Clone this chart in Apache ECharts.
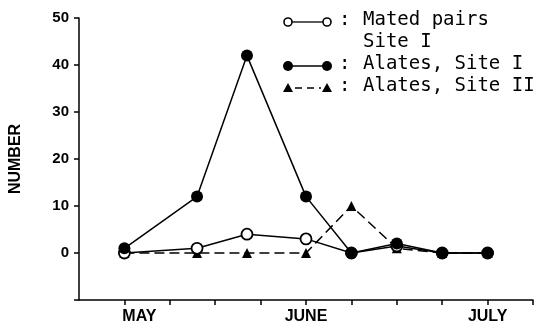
<!DOCTYPE html>
<html><head><meta charset="utf-8">
<script src="https://cdn.jsdelivr.net/npm/echarts@6/dist/echarts.min.js"></script>
<style>html,body{margin:0;padding:0;background:#fff}#c{width:544px;height:328px}</style>
</head><body><div id="c"></div>
<script>
// Data (x positions in weeks from start of May; month ticks at 0, 4, 8)
var xPositions = [0, 1.6, 2.7, 4, 5, 6, 7, 8];
var matedPairsSiteI = [0, 1, 4, 3, 0, 1.5, 0, 0];
var alatesSiteI = [1, 12, 42, 12, 0, 2, 0, 0];
var alatesSiteII = [0, 0, 0, 0, 10, 1, 0, 0];
var monthLabels = {0: 'MAY', 4: 'JUNE', 8: 'JULY'};
var yTickLabels = [0, 10, 20, 30, 40, 50];

function pairs(ys){ return xPositions.map(function(x,i){ return [x, ys[i]]; }); }

var chart = echarts.init(document.getElementById('c'), null, {renderer:'canvas'});
var axisFont = {fontFamily:'Liberation Sans', fontWeight:'bold', color:'#000'};
var legendFont = 'DejaVu Sans Mono';
var lx = 363, rows = [22, 43.5, 66, 88];
function legendText(t, y){ return {type:'text', left:lx, top:y-11, style:{text:t, font:'19px "'+legendFont+'"', fill:'#000'}}; }
function colon(y){ return {type:'text', left:339, top:y-11, style:{text:':', font:'19px "'+legendFont+'"', fill:'#000'}}; }

var option = {
  animation:false,
  backgroundColor:'#fff',
  grid:{left:76, right:11, top:18, bottom:28, containLabel:false},
  xAxis:{type:'value', min:-1, max:9, interval:1,
    axisLine:{onZero:false, lineStyle:{color:'#000', width:1.5}},
    axisTick:{show:true, inside:false, length:5, lineStyle:{color:'#000', width:1.5}},
    splitLine:{show:false},
    axisLabel:Object.assign({fontSize:16, margin:9, showMinLabel:false,
      formatter:function(v){ return monthLabels[v] ? (v===0 ? '{m|'+monthLabels[v]+'}' : monthLabels[v]) : ''; },
      rich:{m:Object.assign({fontSize:16, padding:[0,0,0,30]}, axisFont)}}, axisFont)
  },
  yAxis:{type:'value', min:-10, max:50, interval:10,
    axisLine:{show:true, onZero:false, lineStyle:{color:'#000', width:1.5}},
    axisTick:{show:true, inside:false, length:5, lineStyle:{color:'#000', width:1.5}},
    splitLine:{show:false},
    axisLabel:Object.assign({fontSize:15, margin:10,
      formatter:function(v){ return yTickLabels.indexOf(v) >= 0 ? String(v) : ''; }}, axisFont),
    name:'NUMBER', nameLocation:'middle', nameGap:55, nameRotate:90,
    nameTextStyle:{fontFamily:'Liberation Sans', fontWeight:'bold', fontSize:16, color:'#000'}
  },
  series:[
    {name:'Alates, Site II', type:'line', data:pairs(alatesSiteII), symbol:'triangle', symbolSize:10,
     lineStyle:{color:'#000', width:1.5, type:[10,5]}, itemStyle:{color:'#000'}, z:2},
    {name:'Mated pairs Site I', type:'line', data:pairs(matedPairsSiteI), symbol:'circle', symbolSize:11,
     lineStyle:{color:'#000', width:1.5}, itemStyle:{color:'#fff', borderColor:'#000', borderWidth:1.8}, z:3},
    {name:'Alates, Site I', type:'line', data:pairs(alatesSiteI), symbol:'circle', symbolSize:12,
     lineStyle:{color:'#000', width:1.5}, itemStyle:{color:'#000'}, z:4}
  ],
  graphic:[
    {type:'circle', shape:{cx:288, cy:rows[0], r:4}, style:{fill:'#fff', stroke:'#000', lineWidth:1.6}},
    {type:'line', shape:{x1:292, y1:rows[0], x2:323, y2:rows[0]}, style:{stroke:'#000', lineWidth:1.3}},
    {type:'circle', shape:{cx:327, cy:rows[0], r:4}, style:{fill:'#fff', stroke:'#000', lineWidth:1.6}},
    colon(rows[0]), legendText('Mated pairs', rows[0]), legendText('Site I', rows[1]),
    {type:'circle', shape:{cx:288, cy:rows[2], r:5}, style:{fill:'#000'}},
    {type:'line', shape:{x1:292, y1:rows[2], x2:323, y2:rows[2]}, style:{stroke:'#000', lineWidth:1.5}},
    {type:'circle', shape:{cx:327, cy:rows[2], r:5}, style:{fill:'#000'}},
    colon(rows[2]), legendText('Alates, Site I', rows[2]),
    {type:'polygon', shape:{points:[[288,rows[3]-5],[283,rows[3]+4],[293,rows[3]+4]]}, style:{fill:'#000'}},
    {type:'line', shape:{x1:295, y1:rows[3], x2:321, y2:rows[3]}, style:{stroke:'#000', lineWidth:1.5, lineDash:[7,5]}},
    {type:'polygon', shape:{points:[[327,rows[3]-5],[322,rows[3]+4],[332,rows[3]+4]]}, style:{fill:'#000'}},
    colon(rows[3]), legendText('Alates, Site II', rows[3])
  ]
};
chart.setOption(option);
</script></body></html>
